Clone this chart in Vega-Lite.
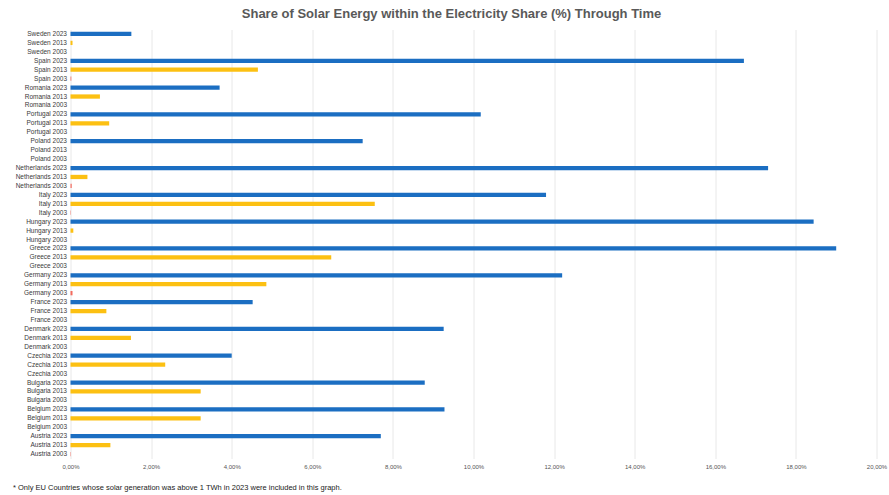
{
  "$schema": "https://vega.github.io/schema/vega-lite/v6.json",
  "width": 806,
  "height": 429,
  "autosize": {"type": "none"},
  "padding": {"left": 70.5, "top": 29.5, "right": 12.5, "bottom": 36.5},
  "background": "white",
  "title": {
    "text": "Share of Solar Energy within the Electricity Share (%) Through Time",
    "anchor": "middle",
    "dx": -22,
    "offset": 9,
    "font": "Liberation Sans",
    "fontSize": 13,
    "fontWeight": "bold",
    "color": "#595959"
  },
  "data": {
    "values": [
      {"label": "Sweden 2023", "year": "2023", "share": 1.51},
      {"label": "Sweden 2013", "year": "2013", "share": 0.05},
      {"label": "Sweden 2003", "year": "2003", "share": 0},
      {"label": "Spain 2023", "year": "2023", "share": 16.71},
      {"label": "Spain 2013", "year": "2013", "share": 4.65},
      {"label": "Spain 2003", "year": "2003", "share": 0.02},
      {"label": "Romania 2023", "year": "2023", "share": 3.70},
      {"label": "Romania 2013", "year": "2013", "share": 0.73},
      {"label": "Romania 2003", "year": "2003", "share": 0},
      {"label": "Portugal 2023", "year": "2023", "share": 10.18},
      {"label": "Portugal 2013", "year": "2013", "share": 0.96},
      {"label": "Portugal 2003", "year": "2003", "share": 0},
      {"label": "Poland 2023", "year": "2023", "share": 7.25},
      {"label": "Poland 2013", "year": "2013", "share": 0},
      {"label": "Poland 2003", "year": "2003", "share": 0},
      {"label": "Netherlands 2023", "year": "2023", "share": 17.31},
      {"label": "Netherlands 2013", "year": "2013", "share": 0.42},
      {"label": "Netherlands 2003", "year": "2003", "share": 0.03},
      {"label": "Italy 2023", "year": "2023", "share": 11.8},
      {"label": "Italy 2013", "year": "2013", "share": 7.55},
      {"label": "Italy 2003", "year": "2003", "share": 0.01},
      {"label": "Hungary 2023", "year": "2023", "share": 18.44},
      {"label": "Hungary 2013", "year": "2013", "share": 0.07},
      {"label": "Hungary 2003", "year": "2003", "share": 0},
      {"label": "Greece 2023", "year": "2023", "share": 19.0},
      {"label": "Greece 2013", "year": "2013", "share": 6.47},
      {"label": "Greece 2003", "year": "2003", "share": 0},
      {"label": "Germany 2023", "year": "2023", "share": 12.2},
      {"label": "Germany 2013", "year": "2013", "share": 4.86},
      {"label": "Germany 2003", "year": "2003", "share": 0.05},
      {"label": "France 2023", "year": "2023", "share": 4.52},
      {"label": "France 2013", "year": "2013", "share": 0.89},
      {"label": "France 2003", "year": "2003", "share": 0},
      {"label": "Denmark 2023", "year": "2023", "share": 9.26},
      {"label": "Denmark 2013", "year": "2013", "share": 1.5},
      {"label": "Denmark 2003", "year": "2003", "share": 0},
      {"label": "Czechia 2023", "year": "2023", "share": 4.0},
      {"label": "Czechia 2013", "year": "2013", "share": 2.35},
      {"label": "Czechia 2003", "year": "2003", "share": 0},
      {"label": "Bulgaria 2023", "year": "2023", "share": 8.79},
      {"label": "Bulgaria 2013", "year": "2013", "share": 3.23},
      {"label": "Bulgaria 2003", "year": "2003", "share": 0},
      {"label": "Belgium 2023", "year": "2023", "share": 9.28},
      {"label": "Belgium 2013", "year": "2013", "share": 3.23},
      {"label": "Belgium 2003", "year": "2003", "share": 0},
      {"label": "Austria 2023", "year": "2023", "share": 7.7},
      {"label": "Austria 2013", "year": "2013", "share": 0.99},
      {"label": "Austria 2003", "year": "2003", "share": 0.01}
    ]
  },
  "mark": {"type": "bar"},
  "encoding": {
    "y": {
      "field": "label",
      "type": "nominal",
      "sort": null,
      "scale": {"paddingInner": 0.52, "paddingOuter": 0.26},
      "axis": {
        "title": null,
        "ticks": false,
        "domain": false,
        "labelPadding": 4,
        "labelFont": "Liberation Sans",
        "labelFontSize": 6.5,
        "labelColor": "#3a3a3a"
      }
    },
    "x": {
      "field": "share",
      "type": "quantitative",
      "scale": {"domain": [0, 20], "nice": false},
      "axis": {
        "values": [0, 2, 4, 6, 8, 10, 12, 14, 16, 18, 20],
        "labelExpr": "replace(format(datum.value, '.2f'), '.', ',') + '%'",
        "grid": true,
        "gridColor": "#e8e8e8",
        "gridWidth": 1,
        "domain": false,
        "ticks": false,
        "labelPadding": 5,
        "labelFont": "Liberation Sans",
        "labelFontSize": 6,
        "labelColor": "#555555",
        "labelFlush": false,
        "title": "* Only EU Countries whose solar generation was above 1 TWh in 2023 were included in this graph.",
        "titleAnchor": "start",
        "titleAlign": "left",
        "titleBaseline": "alphabetic",
        "titleX": -58,
        "titleY": 31,
        "titleFont": "Liberation Sans",
        "titleFontSize": 7.5,
        "titleFontWeight": "normal",
        "titleColor": "#222222"
      }
    },
    "color": {
      "field": "year",
      "type": "nominal",
      "scale": {
        "domain": ["2023", "2013", "2003"],
        "range": ["#1b6ec2", "#fcc012", "#f36b5e"]
      },
      "legend": null
    }
  },
  "config": {
    "view": {"stroke": null}
  }
}
